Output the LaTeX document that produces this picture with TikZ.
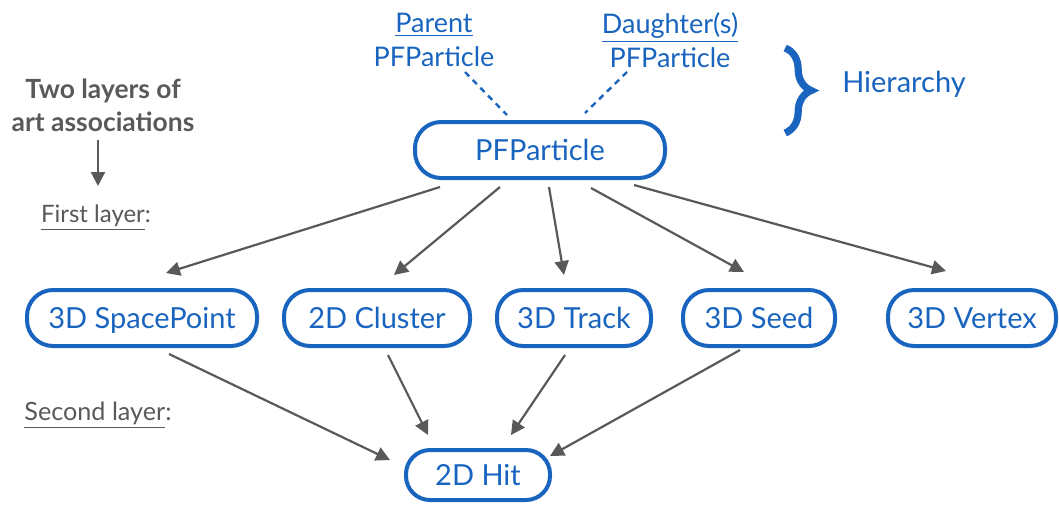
\documentclass[tikz,border=0pt]{standalone}
\usepackage{fontspec}
\setmainfont{Lato}
\usetikzlibrary{arrows.meta,calc,decorations.pathreplacing}
\definecolor{pfblue}{RGB}{24,100,190}
\definecolor{arrgray}{RGB}{88,89,91}
\tikzset{
  pfbox/.style={draw=pfblue, line width=2pt, rounded corners=13pt, text=pfblue,
    minimum height=28pt, inner sep=0pt, text height=12pt, text depth=1.6pt,
    font=\fontsize{14.5}{16}\selectfont},
  arr/.style={-{Triangle[length=7pt,width=7pt]}, draw=arrgray, line width=1.1pt},
  hier/.style={text=pfblue, align=center, font=\fontsize{13.5}{17}\selectfont},
  layer/.style={text=arrgray, font=\fontsize{12}{14}\selectfont},
}
\begin{document}
\begin{tikzpicture}[x=0.5pt,y=-0.5pt]
    \useasboundingbox (0,0) rectangle (1059,505);
    % Draw the boxes
    \node[pfbox, minimum width=125pt] (pf) at (540,150) {PFParticle};
    \node[pfbox, minimum width=115pt] (sp) at (142,318) {3D SpacePoint};
    \node[pfbox, minimum width=93pt] (cl) at (377,318) {2D Cluster};
    \node[pfbox, minimum width=77pt] (tr) at (574,318) {3D Track};
    \node[pfbox, minimum width=76pt] (sd) at (759,318) {3D Seed};
    \node[pfbox, minimum width=84pt] (vx) at (972,318) {3D Vertex};
    \node[pfbox, minimum width=72pt, minimum height=25pt, rounded corners=12pt] (hit) at (478,475) {2D Hit};
    % hierarchy
    \node[hier] (par) at (434,40) {\underline{Parent}\\PFParticle};
    \node[hier] (dau) at (670,40) {\underline{Daughter(s)}\\PFParticle};
    \node[hier, font=\fontsize{14.5}{17}\selectfont] (hr) at (904,84) {Hierarchy};
    \draw[pfblue, line width=1.2pt, dash pattern=on 3pt off 2.5pt] ($(par)+(31,32)$) -- ($(pf)+(-33,-35)$);
    \draw[pfblue, line width=1.2pt, dash pattern=on 3pt off 2.5pt] ($(dau)+(-43,32)$) -- ($(pf)+(45,-37)$);
    \draw[pfblue, line width=3.6pt, decorate, decoration={brace, amplitude=13pt, aspect=0.5}]
      ($(hr.west)+(-50,-36)$) -- ($(hr.west)+(-50,49)$);
    % layers
    \node[layer, align=center, font=\bfseries\fontsize{13.2}{16.5}\selectfont] (two) at (103,105) {Two layers of\\art associations};
    \node[layer] (first) at (96,218) {\underline{First layer}:};
    \node[layer, font=\fontsize{12.6}{14}\selectfont] (second) at (98,415) {\underline{Second layer}:};
    \draw[arr] ($(two)+(-5,35)$) -- ($(first)+(2,-32)$);
    % first layer arrows
    \draw[arr] ($(pf)+(-100,37)$) -- ($(sp)+(24,-45)$);
    \draw[arr] ($(pf)+(-40,37)$) -- ($(cl)+(17,-43)$);
    \draw[arr] ($(pf)+(9,37)$) -- ($(tr)+(-10,-43)$);
    \draw[arr] ($(pf)+(51,38)$) -- ($(sd)+(-15,-46)$);
    \draw[arr] ($(pf)+(94,35)$) -- ($(vx)+(-26,-47)$);
    % second layer arrows
    \draw[arr] ($(sp)+(27,36)$) -- ($(hit)+(-88,-15)$);
    \draw[arr] ($(cl)+(11,37)$) -- ($(hit)+(-50,-40)$);
    \draw[arr] ($(tr)+(-9,37)$) -- ($(hit)+(33,-40)$);
    \draw[arr] ($(sd)+(-19,32)$) -- ($(hit)+(72,-19)$);
\end{tikzpicture}
\end{document}
